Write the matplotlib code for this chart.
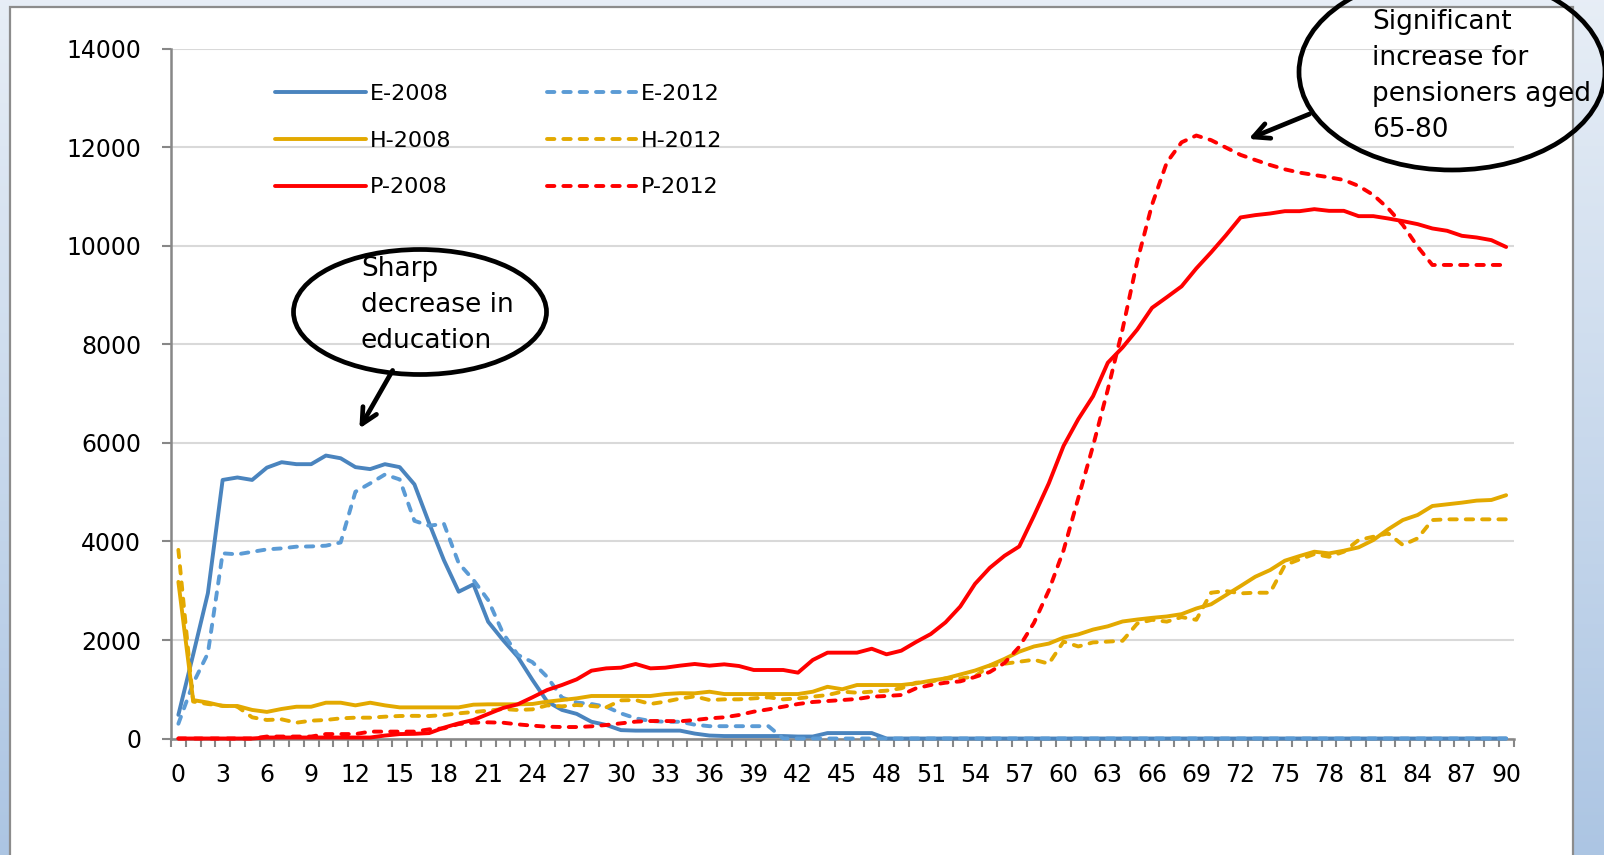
import numpy as np
import matplotlib
matplotlib.use("Agg")
import matplotlib.pyplot as plt
from matplotlib.patches import Ellipse, Rectangle

# ages 0..90
ages = list(range(91))

e_2008 = [480, 1700, 2950, 5250, 5300, 5250, 5500, 5610, 5570, 5570,
          5745, 5690, 5510, 5470, 5570, 5510, 5160, 4370, 3620, 2980,
          3130, 2370, 2000, 1660, 1190, 750, 580, 500, 340, 275,
          170, 160, 160, 160, 160, 100, 60, 50, 50, 50,
          50, 50, 40, 40, 110, 110, 110, 110] + [0] * 43

e_2012 = [300, 1120, 1730, 3760, 3740, 3790, 3840, 3860, 3895, 3900,
          3915, 3980, 5010, 5180, 5360, 5260, 4420, 4320, 4360, 3560,
          3220, 2810, 2140, 1700, 1550, 1250, 830, 730, 700, 645,
          510, 410, 355, 340, 340, 280, 250, 250, 250, 250,
          250] + [0] * 50

h_2008 = [3180, 780, 730, 660, 660, 580, 540, 600, 645, 645,
          727, 727, 673, 727, 673, 632, 632, 632, 632, 632,
          687, 694, 694, 694, 701, 748, 781, 815, 863, 863,
          863, 863, 863, 903, 920, 917, 950, 903, 903, 903,
          903, 903, 903, 950, 1050, 1000, 1086, 1086, 1086, 1086,
          1120, 1174, 1221, 1300, 1380, 1485, 1616, 1763, 1869, 1927,
          2049, 2114, 2212, 2278, 2376, 2416, 2450, 2478, 2525, 2640,
          2725, 2910, 3095, 3285, 3420, 3610, 3705, 3793, 3759, 3813,
          3881, 4030, 4247, 4436, 4538, 4721, 4755, 4789, 4830, 4843,
          4940]

h_2012 = [3830, 750, 700, 666, 646, 430, 376, 389, 321, 362,
          376, 409, 423, 423, 443, 457, 460, 456, 477, 511,
          538, 565, 599, 579, 592, 673, 653, 680, 660, 632,
          775, 781, 701, 748, 810, 855, 781, 795, 795, 815,
          836, 795, 815, 849, 883, 951, 930, 951, 971, 1019,
          1133, 1154, 1221, 1220, 1260, 1480, 1518, 1559, 1600, 1518,
          1967, 1869, 1951, 1967, 1984, 2335, 2410, 2373, 2465, 2410,
          2960, 2995, 2947, 2960, 2960, 3520, 3637, 3745, 3690, 3793,
          4030, 4097, 4165, 3928, 4064, 4436, 4450, 4450, 4450, 4450,
          4450]

p_2008 = [0, 0, 0, 0, 0, 0, 20, 20, 20, 20,
          20, 20, 20, 20, 60, 90, 95, 110, 220, 308,
          376, 498, 619, 694, 836, 985, 1086, 1201, 1377, 1424,
          1438, 1513, 1424, 1438, 1479, 1513, 1479, 1506, 1472, 1391,
          1391, 1391, 1337, 1594, 1743, 1743, 1743, 1823, 1709, 1783,
          1959, 2121, 2358, 2680, 3140, 3465, 3710, 3900, 4525, 5180,
          5940, 6485, 6950, 7630, 7940, 8305, 8745, 8960, 9180, 9545,
          9870, 10215, 10580, 10627, 10660, 10707, 10707, 10748, 10714, 10714,
          10606, 10606, 10559, 10505, 10444, 10356, 10309, 10207, 10173, 10119,
          9980]

p_2012 = [0, 0, 0, 0, 0, 0, 40, 40, 40, 40,
          90, 90, 90, 140, 140, 140, 140, 186, 206, 294,
          321, 328, 321, 287, 261, 240, 233, 233, 247, 274,
          308, 342, 355, 355, 350, 375, 409, 430, 477, 545,
          592, 646, 700, 741, 761, 781, 802, 849, 863, 883,
          1019, 1086, 1133, 1160, 1250, 1350, 1533, 1862, 2351, 3005,
          3820, 4882, 5942, 7085, 8309, 9697, 10840, 11697, 12105, 12243,
          12150, 12000, 11850, 11746, 11645, 11557, 11490, 11442, 11395, 11341,
          11219, 11036, 10765, 10427, 9987, 9615, 9615, 9615, 9615, 9615,
          9615]

W, H = 1604, 855
fig = plt.figure(figsize=(W / 100, H / 100), dpi=100)

# slide-like background gradient
bg = fig.add_axes([0, 0, 1, 1], zorder=-10)
grad = np.linspace(0, 1, 256).reshape(-1, 1)
top = np.array([0.906, 0.933, 0.965])
bot = np.array([0.675, 0.773, 0.890])
img = top + (bot - top) * grad[..., None]
bg.imshow(img, aspect="auto", extent=[0, W, H, 0])
bg.set_xlim(0, W)
bg.set_ylim(H, 0)
bg.axis("off")
bg.add_patch(Rectangle((10, 7.5), 1563, 900, facecolor="white",
                       edgecolor="#8c8c8c", lw=1.6, clip_on=False))

ax = fig.add_axes([171 / W, 1 - 738.5 / H, (1513.5 - 171) / W, (738.5 - 49) / H])
ax.set_facecolor("none")

blue = "#4A84BE"
blue_l = "#5B9BD5"
gold = "#E3A900"
red = "#FF0000"
lw = 2.8
dash = (0, (1.9, 2.3))
kw = dict(lw=lw, solid_capstyle="round", dash_capstyle="round", zorder=3, clip_on=False)

l1, = ax.plot(ages, e_2008, color=blue, **kw)
l4, = ax.plot(ages, e_2012, color=blue_l, ls=dash, **kw)
l2, = ax.plot(ages, h_2008, color=gold, **kw)
l5, = ax.plot(ages, h_2012, color=gold, ls=dash, **kw)
l3, = ax.plot(ages, p_2008, color=red, **kw)
l6, = ax.plot(ages, p_2012, color=red, ls=dash, **kw)

ax.set_xlim(-0.5, 90.5)
ax.set_ylim(0, 14000)
ax.set_yticks(range(0, 14001, 2000))
ax.set_xticks(range(0, 91, 3))
ax.set_xticks(np.arange(-0.5, 91, 1), minor=True)
ax.yaxis.grid(True, color="#d9d9d9", lw=1.5)
ax.set_axisbelow(True)
for s in ["top", "right"]:
    ax.spines[s].set_visible(False)
for s in ["left", "bottom"]:
    ax.spines[s].set_color("#878787")
    ax.spines[s].set_linewidth(1.8)
ax.tick_params(axis="y", direction="out", length=6.5, width=1.5, color="#878787",
               pad=15, labelsize=17)
ax.tick_params(axis="x", which="major", length=0, pad=17.5, labelsize=17)
ax.tick_params(axis="x", which="minor", direction="out", length=5.8, width=1.5,
               color="#878787")

fig.legend([l1, l2, l3, l4, l5, l6],
           ["E-2008", "H-2008", "P-2008", "E-2012", "H-2012", "P-2012"],
           ncol=2, loc="upper left", bbox_to_anchor=(275 / W, 1 - 84 / H),
           frameon=False, fontsize=16, handlelength=4.1, handletextpad=0.15,
           columnspacing=4.3, labelspacing=1.2, borderpad=0, borderaxespad=0)

# callouts
ov = fig.add_axes([0, 0, 1, 1], zorder=5)
ov.set_xlim(0, W)
ov.set_ylim(H, 0)
ov.axis("off")
ov.add_patch(Ellipse((420, 312), 253, 125, facecolor="none", edgecolor="black", lw=3.4))
ov.text(361, 256, "Sharp\ndecrease in\neducation", fontsize=19, va="top", ha="left",
        linespacing=1.5)
ov.annotate("", xy=(358, 431), xytext=(394, 368),
            arrowprops=dict(arrowstyle="->", lw=3.4, color="black", mutation_scale=28))

ov.add_patch(Ellipse((1452, 72), 306, 196, facecolor="none", edgecolor="black", lw=3.4,
                     clip_on=False))
ov.text(1372, 9, "Significant\nincrease for\npensioners aged\n65-80", fontsize=19,
        va="top", ha="left", linespacing=1.5)
ov.annotate("", xy=(1246, 140), xytext=(1312, 113),
            arrowprops=dict(arrowstyle="->", lw=3.4, color="black", mutation_scale=28))

fig.savefig("out.png", dpi=100)
